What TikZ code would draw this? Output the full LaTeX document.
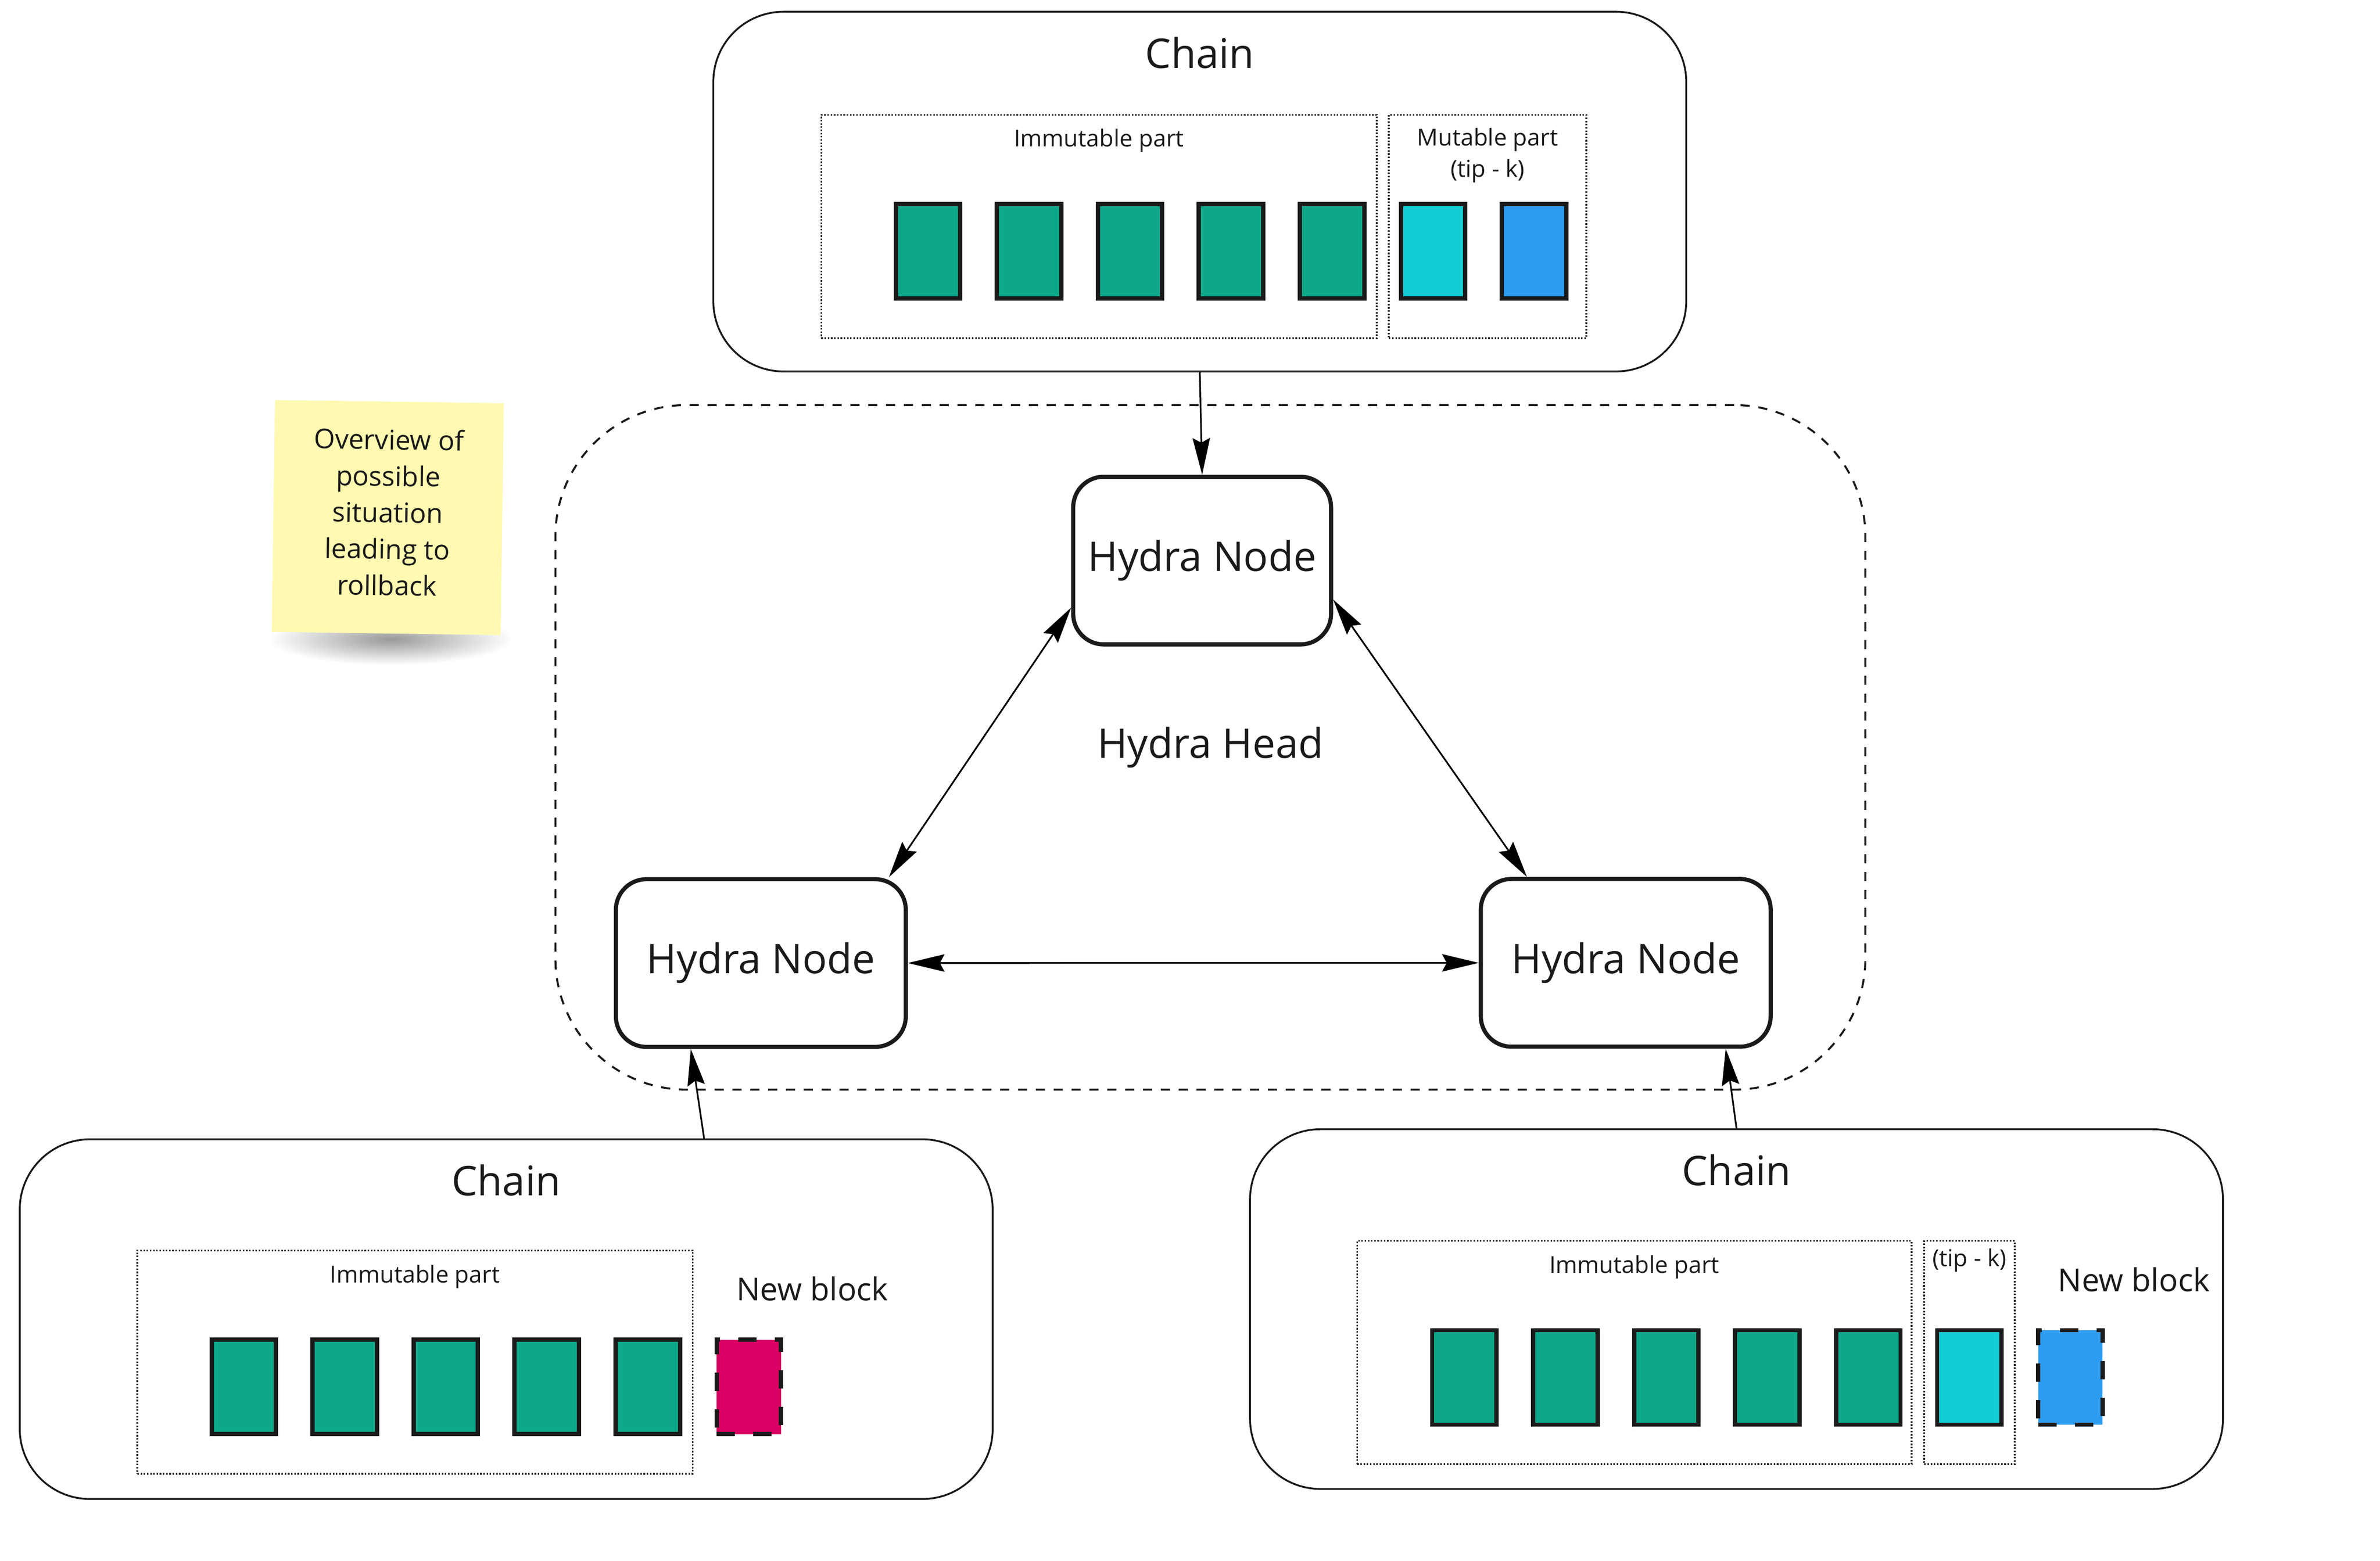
\documentclass[tikz,border=0pt]{standalone}
\usepackage{fontspec}
\setmainfont{Open Sans}
\usetikzlibrary{positioning, arrows.meta}
\definecolor{ink}{HTML}{1A1A1A}
\definecolor{blkgreen}{HTML}{0DA88A}
\definecolor{blkcyan}{HTML}{13CDD4}
\definecolor{blkblue}{HTML}{2D9BF0}
\definecolor{blkred}{HTML}{D80062}
\definecolor{sticky}{HTML}{FFF9B1}
\newcommand\wblk{42.2pt}
\newcommand\hblk{61.9pt}
\newcommand\gblk{21.2pt}
\newcommand\rcn{20pt}
\newcommand\rcc{46pt}
\newcommand\fnbig{\fontsize{26.8}{32}\selectfont}
\newcommand\fnmid{\fontsize{20.7}{25}\selectfont}
\newcommand\fnsmall{\fontsize{15.3}{20.7}\selectfont}

\tikzset{
  chainbox/.style={draw=ink, line width=1.2pt, rounded corners=\rcc, minimum width=637.7pt, minimum height=235.8pt, inner sep=0},
  partbox/.style={draw=ink, line width=1.1pt, dash pattern=on 1pt off 1.1pt, minimum height=146.4pt, inner sep=0},
  blk/.style={draw=ink, line width=2.8pt, minimum width=\wblk, minimum height=\hblk, inner sep=0},
  newblk/.style={blk, dash pattern=on 12pt off 12pt},
  hnode/.style={draw=ink, fill=white, line width=2.7pt, rounded corners=\rcn, minimum height=109.9pt, inner sep=0, font=\fnbig, text=ink},
  lbl/.style={inner sep=0, text=ink},
  link/.style={draw=black, line width=1.1pt},
}

\begin{document}
\begin{tikzpicture}[x=1pt, y=-1pt, >={Stealth[length=24pt, width=11.4pt, inset=3pt]}]
    \useasboundingbox (0,0) rectangle (1560,1023.06);

    % sticky note
    \shade[inner color=black!40, outer color=white] (256,419) ellipse (80 and 17);
    \node (note) [fill=sticky, rotate=-0.8, minimum width=150pt, minimum height=152pt, inner sep=0, align=center, font=\fontsize{17.8}{23.9}\selectfont, text=ink] at (254.2,339.3) {Overview of\\possible\\situation\\leading to\\rollback\strut};

    % hydra head
    \node (head) [draw=ink, line width=1.3pt, dash pattern=on 6pt off 5.7pt, rounded corners=86pt, minimum width=858.6pt, minimum height=448.8pt, inner sep=0, font=\fnbig, text=ink] at (793.35,489.95) {Hydra Head};

    % top chain
    \node (chainT) [chainbox] at (786.4,125.6) {};
    \node (chainTLbl) [lbl, font=\fnbig, below=17pt of chainT.north] {Chain};
    \node (immT) [partbox, minimum width=364pt] at (720.35,148.45) {};
    \node (immTLbl) [lbl, font=\fnsmall, below=9.8pt of immT.north] {Immutable part};
    \node (mutT) [partbox, minimum width=129.4pt, right=6.9pt of immT] {};
    \node (mutTLbl) [lbl, font=\fnsmall, align=center, below=9pt of mutT.north] {Mutable part\\(tip - k)};

    \node (t1) [blk, fill=blkgreen] at (608.3,164.65) {};
    \node (t2) [blk, fill=blkgreen, right=\gblk of t1] {};
    \node (t3) [blk, fill=blkgreen, right=\gblk of t2] {};
    \node (t4) [blk, fill=blkgreen, right=\gblk of t3] {};
    \node (t5) [blk, fill=blkgreen, right=\gblk of t4] {};
    \node (t6) [blk, fill=blkcyan, right=\gblk of t5] {};
    \node (t7) [blk, fill=blkblue, right=\gblk of t6] {};

    % bottom left chain
    \node (chainL) [chainbox] at (331.8,864.8) {};
    \node (chainLLbl) [lbl, font=\fnbig, below=17pt of chainL.north] {Chain};
    \node (immL) [partbox, minimum width=364pt] at (272,892.95) {};
    \node (immLLbl) [lbl, font=\fnsmall, below=9.8pt of immL.north] {Immutable part};

    \node (l1) [blk, fill=blkgreen] at (159.8,909.2) {};
    \node (l2) [blk, fill=blkgreen, right=\gblk of l1] {};
    \node (l3) [blk, fill=blkgreen, right=\gblk of l2] {};
    \node (l4) [blk, fill=blkgreen, right=\gblk of l3] {};
    \node (l5) [blk, fill=blkgreen, right=\gblk of l4] {};
    \node (l6) [newblk, fill=blkred, right=\gblk of l5] {};
    \node (l6Lbl) [lbl, font=\fnmid, above=23.7pt of l6.north, xshift=41.7pt] {New block};

    % bottom right chain
    \node (chainR) [chainbox] at (1138.2,858.2) {};
    \node (chainRLbl) [lbl, font=\fnbig, below=17pt of chainR.north] {Chain};
    \node (immR) [partbox, minimum width=363.4pt] at (1071.25,886.7) {};
    \node (immRLbl) [lbl, font=\fnsmall, below=9.8pt of immR.north] {Immutable part};
    \node (tipR) [partbox, minimum width=59.3pt, right=7.2pt of immR] {};
    \node (tipRLbl) [lbl, font=\fnsmall, below=5.3pt of tipR.north] {(tip - k)};

    \node (r1) [blk, fill=blkgreen] at (959.8,903) {};
    \node (r2) [blk, fill=blkgreen, right=\gblk of r1] {};
    \node (r3) [blk, fill=blkgreen, right=\gblk of r2] {};
    \node (r4) [blk, fill=blkgreen, right=\gblk of r3] {};
    \node (r5) [blk, fill=blkgreen, right=\gblk of r4] {};
    \node (r6) [blk, fill=blkcyan, right=\gblk of r5] {};
    \node (r7) [newblk, fill=blkblue, right=\gblk of r6] {};
    \node (r7Lbl) [lbl, font=\fnmid, above=23.7pt of r7.north, xshift=41.7pt] {New block};

    % hydra nodes
    \node (hnTop) [hnode, minimum width=169pt] at (787.95,367.5) {Hydra Node};
    \node (hnLeft) [hnode, minimum width=190pt] at (498.7,631.35) {Hydra Node};
    \node (hnRight) [hnode, minimum width=190pt] at (1065.6,631.2) {Hydra Node};

    \draw[link, ->] (chainT.south) -- (hnTop.north);
    \draw[link, <->] ([yshift=-30.8pt]hnTop.west) -- ([xshift=-12.4pt]hnLeft.north east);
    \draw[link, <->] ([yshift=-25.5pt]hnTop.east) -- ([xshift=31.6pt]hnRight.north west);
    \draw[link, <->] (hnLeft) -- (hnRight);
    \draw[link, ->] ([xshift=129.7pt]chainL.north) -- ([xshift=-45.9pt]hnLeft.south);
    \draw[link, ->] (chainR.north) -- ([xshift=65.5pt]hnRight.south);

\end{tikzpicture}
\end{document}
